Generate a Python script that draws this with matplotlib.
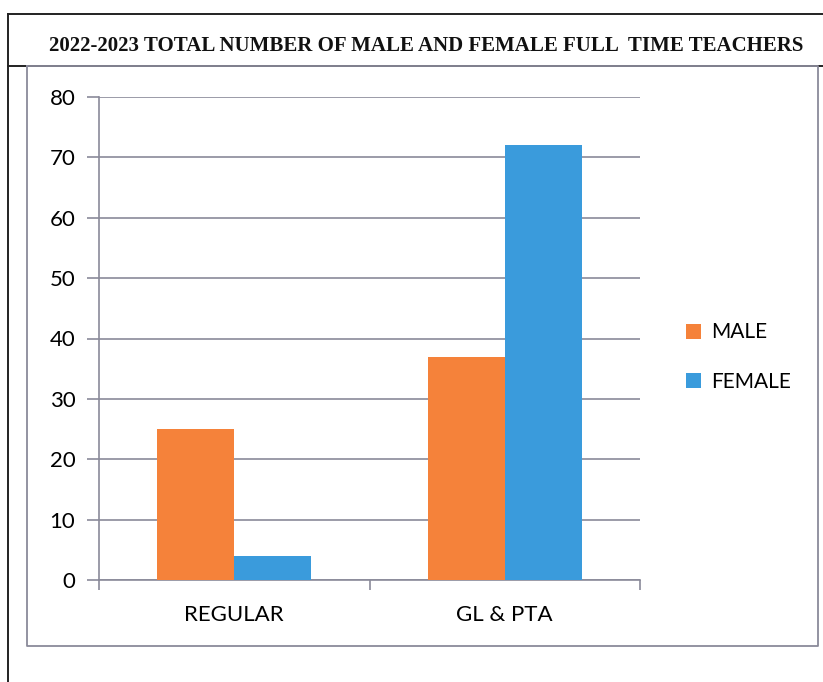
import numpy as np
import matplotlib.pyplot as plt
from matplotlib.lines import Line2D

categories = ["REGULAR", "GL & PTA"]
male = [25, 37]
female = [4, 72]
series_names = ["MALE", "FEMALE"]
title = "2022-2023 TOTAL NUMBER OF MALE AND FEMALE FULL  TIME TEACHERS"

W, H = 823, 682
fig = plt.figure(figsize=(W / 100, H / 100), dpi=100)

def fx(px):
    return px / W

def fy(py):
    return 1 - py / H

# outer black frame (scanned page lines)
for xs, ys in [((8, 8), (14, 682)), ((8, 823), (14, 14)), ((8, 823), (66, 66))]:
    fig.add_artist(Line2D([fx(x) for x in xs], [fy(y) for y in ys],
                          color="#222222", lw=1.4))
# inner chart box
box_x = [27, 818, 818, 27, 27]
box_y = [66, 66, 646, 646, 66]
fig.add_artist(Line2D([fx(x) for x in box_x], [fy(y) for y in box_y],
                      color="#8a8a9a", lw=1.3))

fig.text(fx(426), fy(51), title, ha="center", va="baseline",
         family="Liberation Serif", weight="bold", fontsize=15.05,
         color="#111111")

ax = fig.add_axes([fx(99), fy(580), fx(640) - fx(99), fy(97) - fy(580)])
x = np.arange(len(categories))
bw = 0.285
ax.bar(x - bw / 2, male, bw, color="#F5823A", label=series_names[0], zorder=3)
ax.bar(x + bw / 2, female, bw, color="#3A9BDC", label=series_names[1], zorder=3)

ax.set_xlim(-0.5, 1.5)
ax.set_ylim(0, 80)
ax.set_yticks(range(0, 81, 10))
ax.set_xticks(x)
ax.set_xticklabels(categories)
ax.set_xticks([-0.5, 0.5, 1.5], minor=True)
ax.tick_params(axis="x", which="major", length=0, pad=18)
ax.tick_params(axis="x", which="minor", length=7, color="#8a8a9a", width=1.2)
ax.tick_params(axis="y", length=9, color="#8a8a9a", width=1.2, pad=8)
for lbl in ax.get_xticklabels() + ax.get_yticklabels():
    lbl.set_family("Lato")
    lbl.set_fontsize(16)
    lbl.set_color("#000000")

ax.grid(axis="y", color="#8a8a9a", lw=1.2, zorder=0)
for s in ["top", "right"]:
    ax.spines[s].set_visible(False)
for s in ["left", "bottom"]:
    ax.spines[s].set_color("#8a8a9a")
    ax.spines[s].set_linewidth(1.2)

leg = ax.legend(loc="center left", bbox_to_anchor=(fx(667), fy(357)),
                bbox_transform=fig.transFigure, frameon=False,
                prop={"family": "Lato", "size": 15},
                handlelength=0.75, handleheight=0.75, handletextpad=0.45,
                labelspacing=1.4)
for t in leg.get_texts():
    t.set_color("#000000")

fig.savefig("out.png", dpi=100, facecolor="white")
